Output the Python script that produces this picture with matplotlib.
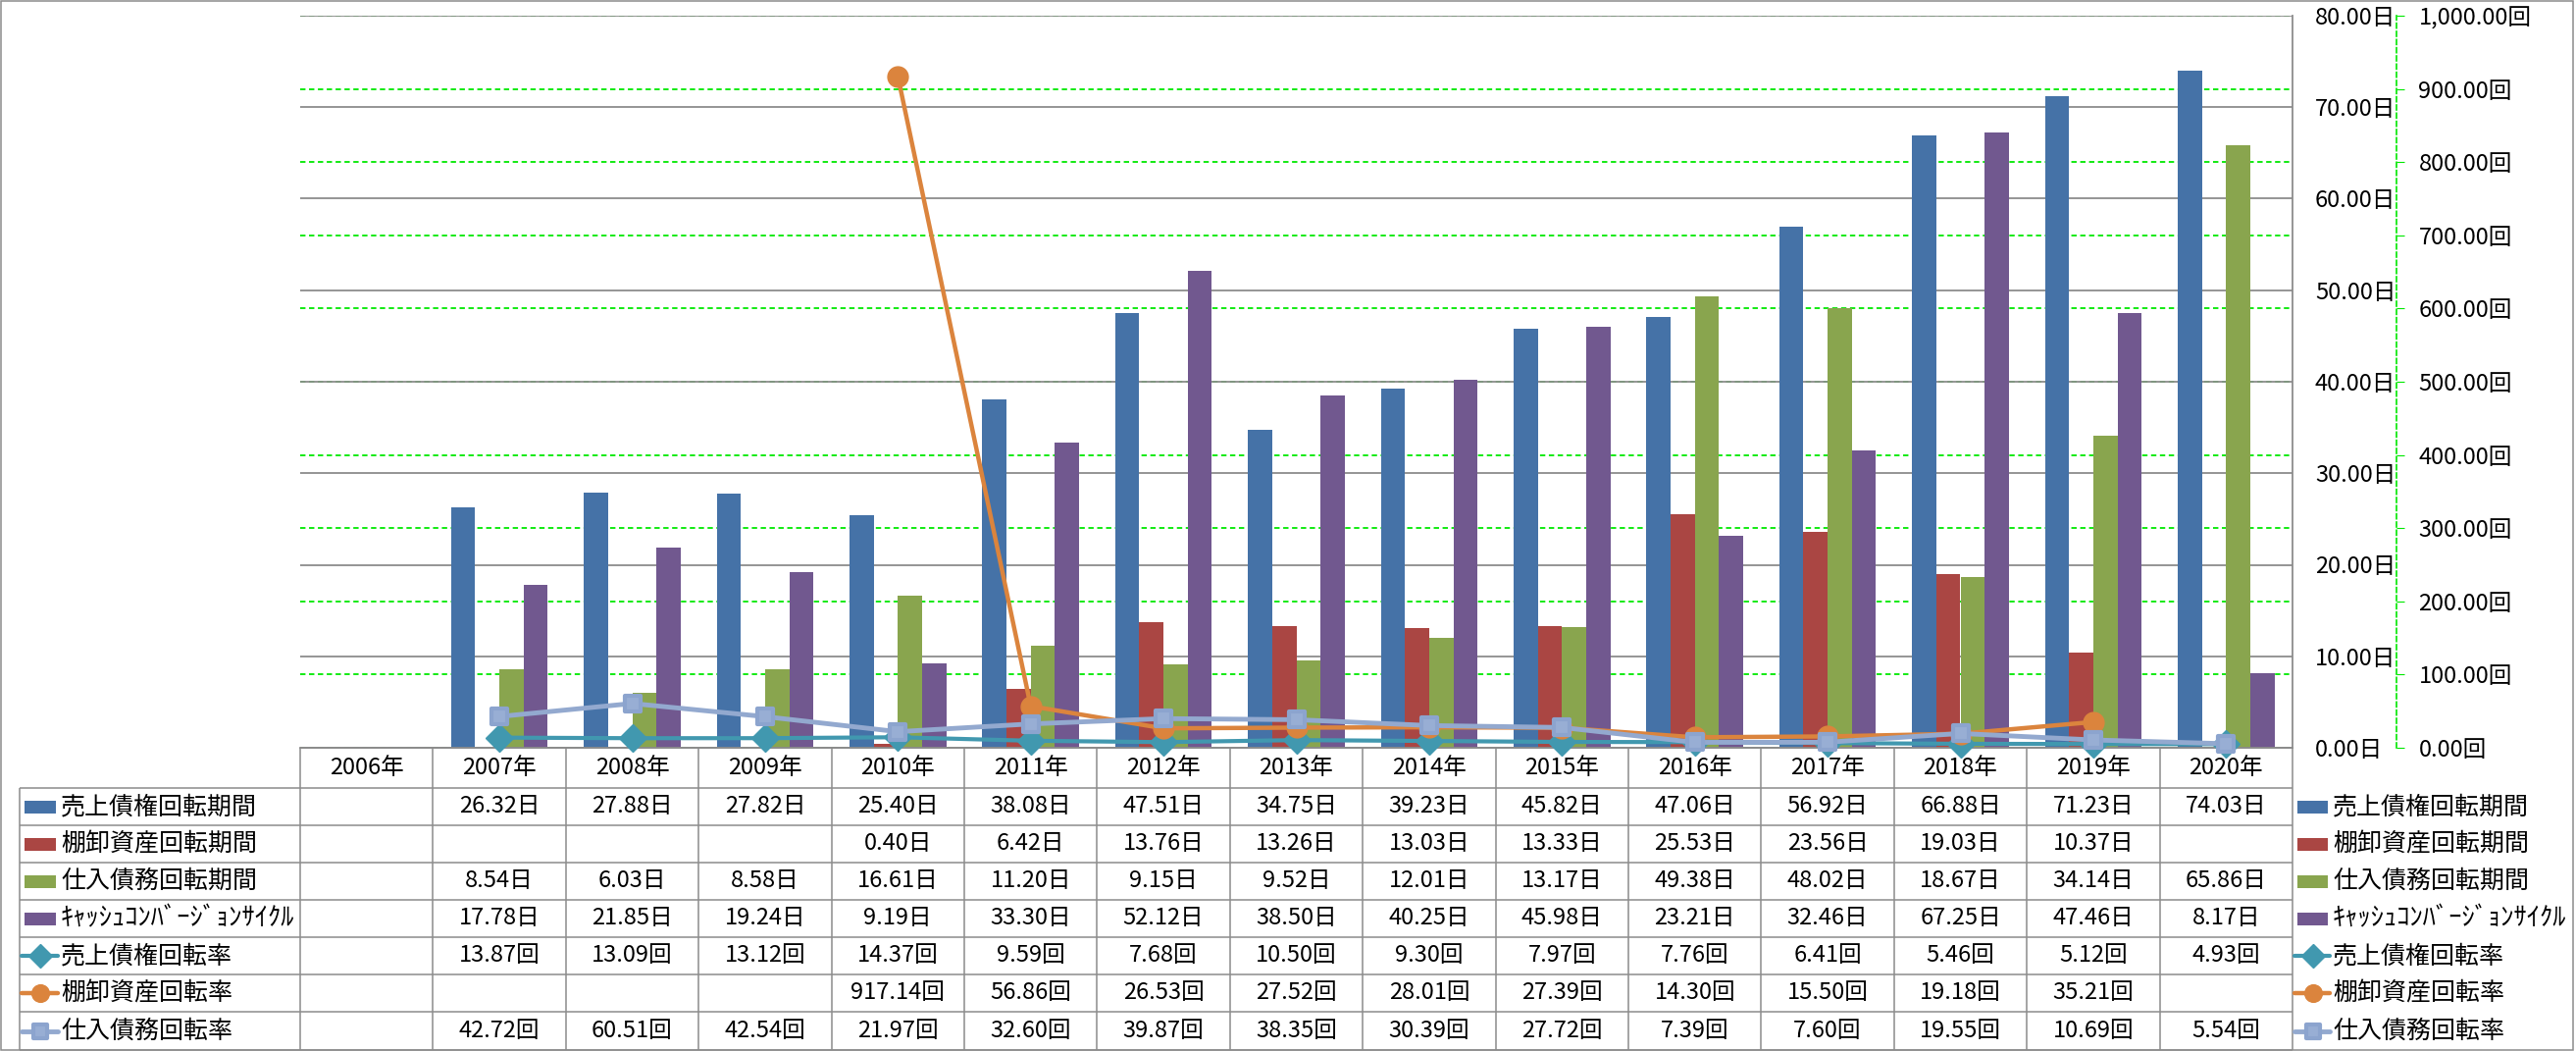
import numpy as np
import matplotlib
matplotlib.use("Agg")
import matplotlib.pyplot as plt
from matplotlib.markers import MarkerStyle
from matplotlib.patches import Rectangle
from matplotlib.ticker import FuncFormatter, MultipleLocator

plt.rcParams['font.family'] = ['Noto Sans CJK JP', 'DejaVu Sans']

nan = np.nan

years = ["2006年", "2007年", "2008年", "2009年", "2010年", "2011年", "2012年", "2013年",
         "2014年", "2015年", "2016年", "2017年", "2018年", "2019年", "2020年"]

ar_days  = [nan, 26.32, 27.88, 27.82, 25.40, 38.08, 47.51, 34.75, 39.23, 45.82, 47.06, 56.92, 66.88, 71.23, 74.03]
inv_days = [nan, nan, nan, nan, 0.40, 6.42, 13.76, 13.26, 13.03, 13.33, 25.53, 23.56, 19.03, 10.37, nan]
ap_days  = [nan, 8.54, 6.03, 8.58, 16.61, 11.20, 9.15, 9.52, 12.01, 13.17, 49.38, 48.02, 18.67, 34.14, 65.86]
ccc_days = [nan, 17.78, 21.85, 19.24, 9.19, 33.30, 52.12, 38.50, 40.25, 45.98, 23.21, 32.46, 67.25, 47.46, 8.17]

ar_turn  = [nan, 13.87, 13.09, 13.12, 14.37, 9.59, 7.68, 10.50, 9.30, 7.97, 7.76, 6.41, 5.46, 5.12, 4.93]
inv_turn = [nan, nan, nan, nan, 917.14, 56.86, 26.53, 27.52, 28.01, 27.39, 14.30, 15.50, 19.18, 35.21, nan]
ap_turn  = [nan, 42.72, 60.51, 42.54, 21.97, 32.60, 39.87, 38.35, 30.39, 27.72, 7.39, 7.60, 19.55, 10.69, 5.54]

bar_names  = ["売上債権回転期間", "棚卸資産回転期間", "仕入債務回転期間", "ｷｬｯｼｭｺﾝﾊﾞｰｼﾞｮﾝｻｲｸﾙ"]
line_names = ["売上債権回転率", "棚卸資産回転率", "仕入債務回転率"]

bar_colors  = ["#4572A7", "#AA4643", "#89A54E", "#71588F"]
line_colors = ["#4198AF", "#DB843D", "#93A9CF"]

# --- figure / layout in pixels ---
W, H = 2626, 1071
fig = plt.figure(figsize=(W / 100, H / 100), dpi=100)

PL, PR, PT, PB = 306, 2337, 16, 762
rect = [PL / W, 1 - PB / H, (PR - PL) / W, (PB - PT) / H]
GRAY = "#8C8C8C"
GREEN = "#00E800"
FS = 17
FS_LAB = 18

ov = fig.add_axes([0, 0, 1, 1], zorder=0)
ov.set_xlim(0, W)
ov.set_ylim(H, 0)
ov.axis("off")

ax_bg = fig.add_axes(rect, zorder=1)
ax = fig.add_axes(rect, zorder=2)
ax2 = ax.twinx()
ax2.set_zorder(3)
for a in (ax_bg, ax, ax2):
    a.patch.set_visible(False)
    a.set_xlim(-0.5, len(years) - 0.5)
    a.set_xticks([])

# green dashed gridlines of the secondary scale, behind the bars
ax_bg.set_ylim(0, 1000)
ax_bg.yaxis.set_major_locator(MultipleLocator(100))
ax_bg.grid(axis="y", color=GREEN, ls=(0, (3, 2)), lw=1.3)
ax_bg.tick_params(left=False, labelleft=False)
for s in ax_bg.spines.values():
    s.set_visible(False)

# bars
x = np.arange(len(years))
w = 1 / 5.5
for k, (vals, c) in enumerate(zip([ar_days, inv_days, ap_days, ccc_days], bar_colors)):
    ax.bar(x + (k - 1.5) * w, vals, w, color=c, zorder=2)

ax.set_ylim(0, 80)
ax.yaxis.set_major_locator(MultipleLocator(10))
ax.set_axisbelow(True)
ax.grid(axis="y", color=GRAY, lw=1.3)
ax.yaxis.tick_right()
ax.tick_params(axis="y", length=0, pad=16.5, labelsize=FS)
ax.yaxis.set_major_formatter(FuncFormatter(lambda v, p: f"{v:.2f}日"))
ax.spines["left"].set_visible(False)
ax.spines["top"].set_visible(False)
ax.spines["right"].set_color(GRAY)
ax.spines["bottom"].set_color(GRAY)
ax.spines["right"].set_linewidth(1.3)
ax.spines["bottom"].set_linewidth(1.3)

# lines on secondary axis
ax2.set_ylim(0, 1000)
ax2.yaxis.set_major_locator(MultipleLocator(100))
ax2.yaxis.set_major_formatter(FuncFormatter(lambda v, p: f"{v:,.2f}回"))
ax2.tick_params(axis="y", direction="out", length=6, color=GREEN, pad=10.5, labelsize=FS)
for s in ("left", "top", "bottom"):
    ax2.spines[s].set_visible(False)
ax2.spines["right"].set_position(("outward", 76))
ax2.spines["right"].set_color(GREEN)
ax2.spines["right"].set_linestyle((0, (3, 2)))
ax2.spines["right"].set_linewidth(1.2)

sq = MarkerStyle("s", joinstyle="round")
line_styles = [
    dict(marker="D", ms=14, mec=line_colors[0], mfc=line_colors[0], lw=3),
    dict(marker="o", ms=15, mec=line_colors[1], mfc=line_colors[1], lw=3.2),
    dict(marker=sq, ms=12, mec="#8CA4CE", mfc="#98AED4", mew=3, lw=3.5),
]
for vals, c, st in zip([ar_turn, inv_turn, ap_turn], line_colors, line_styles):
    ax2.plot(x, vals, color=c, clip_on=False, **st)

# --- data table under the plot ---
edges = [ax.transData.transform((i - 0.5, 0))[0] for i in range(len(years) + 1)]
centers = [ax.transData.transform((i, 0))[0] for i in range(len(years))]
row_edges = [762, 803, 841, 879, 917, 955, 993, 1031, 1070]
row_mid = [(a + b) / 2 for a, b in zip(row_edges[:-1], row_edges[1:])]
TL = 20

lkw = dict(color=GRAY, lw=1.1, solid_capstyle="butt")
ov.plot([edges[0], edges[-1]], [row_edges[0]] * 2, **lkw)
for r in row_edges[1:]:
    ov.plot([TL, edges[-1]], [r, r], **lkw)
ov.plot([TL, TL], [row_edges[1], row_edges[-1]], **lkw)
for e in edges:
    ov.plot([e, e], [row_edges[0], row_edges[-1]], **lkw)

for cx, yr in zip(centers, years):
    ov.text(cx, row_mid[0], yr, ha="center", va="center", fontsize=FS)

rows = [(ar_days, "日"), (inv_days, "日"), (ap_days, "日"), (ccc_days, "日"),
        (ar_turn, "回"), (inv_turn, "回"), (ap_turn, "回")]
for ri, (vals, unit) in enumerate(rows):
    for cx, v in zip(centers, vals):
        if not np.isnan(v):
            ov.text(cx, row_mid[ri + 1], f"{v:.2f}{unit}", ha="center", va="center", fontsize=FS)

# legend keys: left in the table, and again at the right
names = bar_names + line_names
for key_x0, key_x1, text_x in [(25, 57, 62), (edges[-1] + 5, edges[-1] + 36, edges[-1] + 41)]:
    for i, nm in enumerate(names):
        yc = row_mid[i + 1]
        if i < 4:
            ov.add_patch(Rectangle((key_x0, yc - 6.5), key_x1 - key_x0, 13, color=bar_colors[i], lw=0))
        else:
            st = dict(line_styles[i - 4])
            lw = st.pop("lw")
            st["ms"] = st["ms"] * 0.85
            ov.plot([key_x0 - 3, key_x1 + 2], [yc, yc], color=line_colors[i - 4], lw=lw,
                    solid_capstyle="round")
            ov.plot([(key_x0 + key_x1) / 2], [yc], ls="none", **st)
        fs = 19 if i == 3 else FS_LAB
        ov.text(text_x, yc, nm, ha="left", va="center", fontsize=fs)

# chart border
ov.add_patch(Rectangle((0.5, 0.5), W - 3.5, H - 1.5, fill=False, ec=GRAY, lw=1.1))

fig.savefig("out.png", dpi=100)
